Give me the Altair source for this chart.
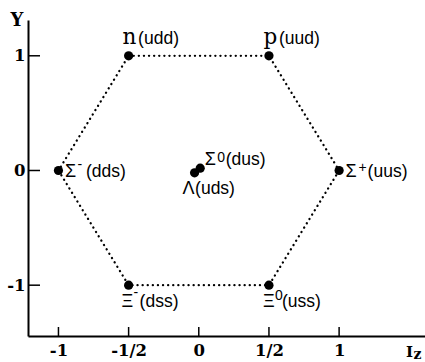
import altair as alt
import pandas as pd

# ---- data ----
names = ["n", "p", "Σ-", "Σ0", "Λ", "Σ+", "Ξ-", "Ξ0"]
iz_values = [-0.5, 0.5, -1.0, 0.01, -0.03, 1.0, -0.5, 0.5]
y_values = [1.0, 1.0, 0.0, 0.02, -0.02, 0.0, -1.0, -1.0]
symbols = ["n", "p", "Σ", "Σ", "Λ", "Σ", "Ξ", "Ξ"]
charges = ["", "", "-", "0", "", "+", "-", "0"]
quarks = ["(udd)", "(uud)", "(dds)", "(dus)", "(uds)", "(uus)", "(dss)", "(uss)"]
hexagon_path = ["n", "p", "Σ+", "Ξ0", "Ξ-", "Σ-", "n"]
x_ticks = [-1, -0.5, 0, 0.5, 1]
x_tick_labels = ["-1", "-1/2", "0", "1/2", "1"]
y_ticks = [-1, 0, 1]
y_tick_labels = ["-1", "0", "1"]

df = pd.DataFrame({"name": names, "Iz": iz_values, "Y": y_values,
                   "symbol": symbols, "charge": charges, "quarks": quarks})
pos = dict(zip(names, zip(iz_values, y_values)))
hex_df = pd.DataFrame({"step": list(range(len(hexagon_path))),
                       "Iz": [pos[n][0] for n in hexagon_path],
                       "Y": [pos[n][1] for n in hexagon_path]})
xt_df = pd.DataFrame({"Iz": x_ticks})
yt_df = pd.DataFrame({"Y": y_ticks})

def label_expr(vals, labs):
    expr = "''"
    for v, l in reversed(list(zip(vals, labs))):
        expr = f"abs(datum.value - ({v})) < 1e-6 ? '{l}' : ({expr})"
    return expr

SERIF = "DejaVu Serif"
SANS = "Liberation Sans"
W, H = 397, 316

x_axis = alt.Axis(values=x_ticks, labelExpr=label_expr(x_ticks, x_tick_labels),
                  ticks=False, tickSize=0, grid=False, domainColor="black", domainWidth=2,
                  labelFont=SERIF, labelFontWeight="bold", labelFontSize=16.5, labelColor="black",
                  labelPadding=6, labelFlush=False,
                  title="I", titleX=381, titleY=20, titleAlign="center",
                  titleBaseline="alphabetic", titleFont=SERIF, titleFontSize=15,
                  titleFontWeight="bold", titleColor="black")
y_axis = alt.Axis(values=y_ticks, labelExpr=label_expr(y_ticks, y_tick_labels),
                  ticks=False, tickSize=0, grid=False, domainColor="black", domainWidth=2,
                  labelFont=SERIF, labelFontWeight="bold", labelFontSize=16.5, labelColor="black",
                  labelPadding=3, labelFlush=False,
                  title="Y", titleAngle=0, titleX=-11.5, titleY=5.5, titleAlign="center",
                  titleBaseline="alphabetic", titleFont=SERIF, titleFontSize=18,
                  titleFontWeight="bold", titleColor="black")

X = alt.X("Iz:Q", scale=alt.Scale(domain=[-1.217, 1.612], nice=False, zero=False), axis=x_axis)
Yc = alt.Y("Y:Q", scale=alt.Scale(domain=[-1.443, 1.312], nice=False, zero=False), axis=y_axis)

hexagon = alt.Chart(hex_df).mark_line(color="black", strokeWidth=2.3, strokeDash=[0.1, 5],
                                      strokeCap="round").encode(x=X, y=Yc, order="step:Q")
xticks = alt.Chart(xt_df).mark_rule(color="black", strokeWidth=1.5).encode(
    x=X, y=alt.value(H), y2=alt.value(H - 9))
yticks = alt.Chart(yt_df).mark_rule(color="black", strokeWidth=1.5).encode(
    y=Yc, x=alt.value(0), x2=alt.value(12))
points = alt.Chart(df).mark_circle(size=85, color="black", opacity=1).encode(x=X, y=Yc)

# label layout (style): sym_dx, sup_dx, q_dx, sym_dy, sup_dy, q_dy
LAYOUT = {
    "n":  (-6, None, 9.5, -12, None, -12),
    "p":  (-5.5, None, 10, -12, None, -12),
    "Σ-": (6.5, 19, 27.5, 7, -1, 7),
    "Σ+": (6.5, 19.5, 28.5, 7, 1.5, 7),
    "Σ0": (4.5, 17, 25.5, -2.7, -6.5, -2.7),
    "Λ":  (-12, None, 0.5, 21, None, 21),
    "Ξ-": (-7, 5, 11, 21.5, 12, 21.5),
    "Ξ0": (-6, 6, 13, 21.5, 15, 21.5),
}

labels = []
for nm in names:
    sdx, pdx, qdx, sdy, pdy, qdy = LAYOUT[nm]
    base = alt.Chart(df).transform_filter(alt.datum.name == nm)
    serif_sym = nm in ("n", "p")
    labels.append(base.mark_text(align="left", baseline="alphabetic", dx=sdx, dy=sdy,
                                 font=SERIF if serif_sym else SANS,
                                 fontSize=21.5 if serif_sym else 18, color="black")
                  .encode(x=X, y=Yc, text="symbol:N"))
    if pdx is not None:
        labels.append(base.mark_text(align="left", baseline="alphabetic", dx=pdx, dy=pdy,
                                     font=SANS, fontSize=14, color="black")
                      .encode(x=X, y=Yc, text="charge:N"))
    labels.append(base.mark_text(align="left", baseline="alphabetic", dx=qdx, dy=qdy,
                                 font=SANS, fontSize=17.5, color="black")
                  .encode(x=X, y=Yc, text="quarks:N"))

subscript = alt.Chart(pd.DataFrame({"t": ["z"]})).mark_text(
    align="center", baseline="alphabetic", font=SERIF, fontSize=14, fontWeight="bold",
    color="black").encode(x=alt.value(389.5), y=alt.value(338.5), text="t:N")

chart = alt.layer(hexagon, xticks, yticks, points, *labels, subscript).properties(
    width=W, height=H,
    autosize=alt.AutoSizeParams(type="none"),
    padding={"left": 28, "top": 20, "right": 0, "bottom": 26},
    background="white",
).configure_view(stroke=None)

chart.save("out.html", embed_options={"renderer": "svg", "actions": False})
